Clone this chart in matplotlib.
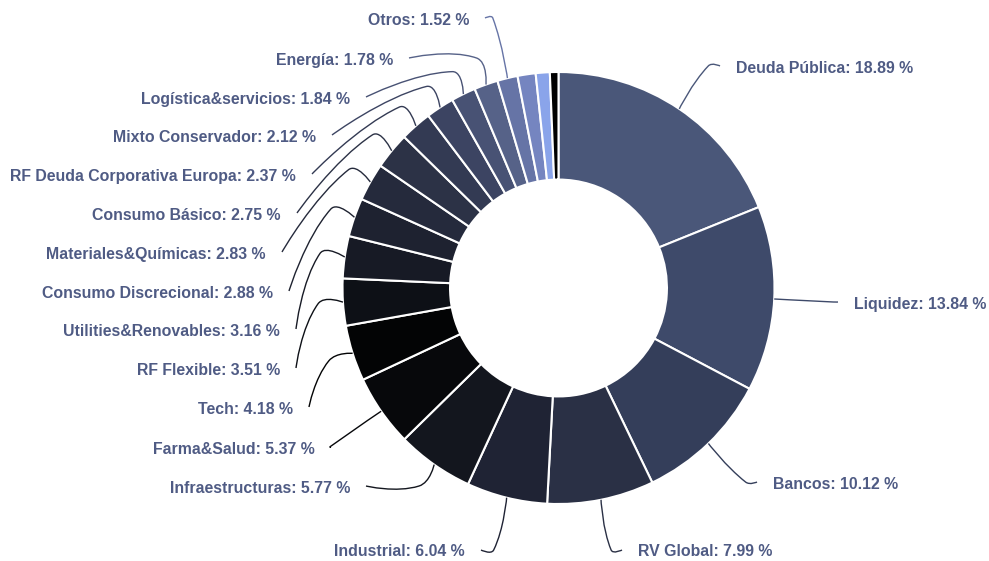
import numpy as np
import matplotlib.pyplot as plt
from matplotlib.path import Path
from matplotlib.patches import PathPatch

# sector weights (%), clockwise from 12 o'clock
labels = ["Deuda Pública", "Liquidez", "Bancos", "RV Global", "Industrial",
          "Infraestructuras", "Farma&Salud", "Tech", "RF Flexible",
          "Utilities&Renovables", "Consumo Discrecional", "Materiales&Químicas",
          "Consumo Básico", "RF Deuda Corporativa Europa", "Mixto Conservador",
          "Logística&servicios", "Energía", "Otros", "", "", ""]
values = [18.89, 13.84, 10.12, 7.99, 6.04, 5.77, 5.37, 4.18, 3.51, 3.16, 2.88,
          2.83, 2.75, 2.37, 2.12, 1.84, 1.78, 1.52, 1.35, 1.05, 0.64]
colors = ["#4a5779", "#3e4a6a", "#343e5a", "#2a3045", "#1f2334", "#13161e",
          "#07080b", "#030405", "#0d1016", "#171a25", "#1e2230", "#252a3c",
          "#2c3246", "#333a53", "#3c4462", "#485274", "#566288", "#6674a6",
          "#7585c0", "#8aa4ea", "#000000"]

# label text anchors in pixels (x = near edge of text, y = text centre)
label_pos = [(736, 68), (854, 304), (773, 484), (638, 552), (465, 552),
             (350, 488), (315, 449), (293, 409), (280, 370), (280, 331),
             (273, 293), (266, 254), (281, 215), (296, 176), (316, 137),
             (350, 99), (393, 60), (469, 20)]

W, H = 989, 561
cx, cy, R = 558.5, 288.0, 216.0
text_color = "#4f5b84"

fig = plt.figure(figsize=(W / 100, H / 100), dpi=100)
ax = fig.add_axes([0, 0, 1, 1])

# y axis points down (pixel-like), so clockwise on screen = counterclock in data
ax.pie(values, colors=colors, center=(cx, cy), radius=R, startangle=-90,
       counterclock=True,
       wedgeprops=dict(width=R * 0.498, edgecolor="white", linewidth=1.5))
ax.set_xlim(0, W)
ax.set_ylim(H, 0)
ax.set_aspect("equal")
ax.axis("off")

total = sum(values)
cum = np.cumsum([0] + values[:-1])
for i, (lab, (tx, ty)) in enumerate(zip(labels, label_pos)):
    phi = np.deg2rad((cum[i] + values[i] / 2) / total * 360)
    d = np.array([np.sin(phi), -np.cos(phi)])
    p0 = np.array([cx, cy]) + d * R
    right = d[0] > 0
    p2 = np.array([tx - 16 if right else tx + 16, ty - 2])
    t = (p2[1] - p0[1]) / d[1] if abs(d[1]) > 1e-3 else -1
    if not 8 <= t <= 70:
        t = 25
    p1 = p0 + d * t
    d0 = np.linalg.norm(p1 - p0)
    d1 = np.linalg.norm(p2 - p1)
    v = (p2 - p0) * 0.5
    ca = p1 - v * d0 / (d0 + d1)
    cb = p1 + v * d1 / (d0 + d1)
    path = Path([p0, p0, ca, p1, cb, p2, p2],
                [Path.MOVETO] + [Path.CURVE4] * 6)
    ax.add_patch(PathPatch(path, fill=False, edgecolor=colors[i], lw=1.0))
    ax.text(tx, ty, f"{lab}: {values[i]:.2f} %", ha="left" if right else "right",
            va="center", fontsize=11.4, fontweight="bold", color=text_color,
            family="Liberation Sans")

fig.savefig("out.png", dpi=100)
